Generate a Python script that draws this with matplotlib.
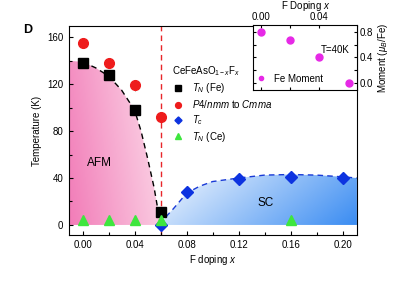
import numpy as np
import matplotlib
matplotlib.use("Agg")
import matplotlib.pyplot as plt
from matplotlib.patches import Polygon
from matplotlib.colors import LinearSegmentedColormap

plt.rcParams["font.family"] = ["Liberation Sans", "DejaVu Sans"]
plt.rcParams["mathtext.fontset"] = "custom"
plt.rcParams["mathtext.rm"] = "Liberation Sans"
plt.rcParams["mathtext.it"] = "Liberation Sans:italic"
plt.rcParams["font.size"] = 7

# main panel data
x_tn_fe = [0.00, 0.02, 0.04, 0.06]
tn_fe = [138, 128, 98, 11]
tn_fe_err = [4, 4, 4, 4]

x_struct = [0.00, 0.02, 0.04, 0.06]
t_struct = [155, 138, 119, 92]
t_struct_err = [4, 4, 5, 4]

x_tc = [0.06, 0.08, 0.12, 0.16, 0.20]
tc = [0, 28, 39, 41, 40]

x_tn_ce = [0.00, 0.02, 0.04, 0.06, 0.16]
tn_ce = [4, 4, 4, 4, 4]

# guide-to-the-eye phase boundaries
afm_x = [0.00, 0.01, 0.02, 0.03, 0.04, 0.045, 0.05, 0.055, 0.06]
afm_t = [139, 134, 127, 115, 98, 80, 57, 32, 0]
sc_x = [0.06, 0.065, 0.07, 0.08, 0.09, 0.10, 0.12, 0.14, 0.16, 0.18, 0.20, 0.211]
sc_t = [0, 8, 14, 27, 33, 37, 40, 42.5, 43, 42.5, 41, 40]

# inset data
x_moment = [0.00, 0.02, 0.04, 0.06]
moment = [0.80, 0.67, 0.40, 0.00]

fig = plt.figure(figsize=(4.15, 2.81), dpi=100)
ax = fig.add_axes([0.166, 0.164, 0.694, 0.743])
xlim = (-0.0105, 0.211)
ylim = (-8.5, 169.5)
ax.set_xlim(*xlim)
ax.set_ylim(*ylim)

# AFM pink region
pink = LinearSegmentedColormap.from_list("pink", ["#f27cb8", "#fcdcea"])
afm_poly = Polygon([(xlim[0], 0), (xlim[0], 140)] + list(zip(afm_x, afm_t)),
                   closed=True, facecolor="none", edgecolor="none")
ax.add_patch(afm_poly)
px, py = np.meshgrid(np.linspace(0, 1, 200), np.linspace(0, 1, 100))
pimg = 0.8 * px + 0.2 * py
im = ax.imshow(pimg, cmap=pink, extent=(xlim[0], 0.06, 0, 141), aspect="auto",
               origin="lower", zorder=0)
im.set_clip_path(afm_poly)

# SC blue region
blue = LinearSegmentedColormap.from_list("blue", ["#f4f8fe", "#3a8cf2"])
sc_poly = Polygon([(0.06, 0)] + list(zip(sc_x, sc_t)) + [(xlim[1], 0)],
                  closed=True, facecolor="none", edgecolor="none")
ax.add_patch(sc_poly)
gx, gy = np.meshgrid(np.linspace(0, 1, 200), np.linspace(0, 1, 100))
gimg = 0.75 * gx + 0.25 * (1 - gy)
im2 = ax.imshow(gimg, cmap=blue, extent=(0.06, xlim[1], 0, 44), aspect="auto",
                origin="lower", zorder=0)
im2.set_clip_path(sc_poly)

ax.plot(afm_x, afm_t, color="black", ls=(0, (4, 3)), lw=1, zorder=2)
ax.plot(sc_x, sc_t, color="#1a3ad6", ls=(0, (4, 3)), lw=1, zorder=2)
ax.axvline(0.06, color="#e8262a", ls=(0, (4, 3)), lw=1, zorder=1)

h1 = ax.errorbar(x_tn_fe, tn_fe, yerr=tn_fe_err, fmt="s", color="black", ms=6.5,
                 ecolor="#888888", elinewidth=0.8, capsize=0, zorder=4)
h2 = ax.errorbar(x_struct, t_struct, yerr=t_struct_err, fmt="o", color="#ee1c1c",
                 ms=7, ecolor="#999999", elinewidth=0.8, capsize=0, zorder=4)
h3, = ax.plot(x_tc, tc, "D", color="#0d33e0", ms=6, ls="none", zorder=4)
h4, = ax.plot(x_tn_ce, tn_ce, "^", color="#3ee63e", ms=7, ls="none", zorder=5)

ax.text(0.013, 53, "AFM", fontsize=8.5, ha="center", va="center")
ax.text(0.141, 19, "SC", fontsize=8.5, ha="center", va="center")

ax.set_xticks([0.00, 0.04, 0.08, 0.12, 0.16, 0.20])
ax.set_xticklabels(["0.00", "0.04", "0.08", "0.12", "0.16", "0.20"])
ax.set_xticks([0.02, 0.06, 0.10, 0.14, 0.18], minor=True)
ax.set_yticks([0, 40, 80, 120, 160])
ax.set_yticks([20, 60, 100, 140], minor=True)
ax.tick_params(which="both", direction="in", labelsize=7, pad=4)
ax.tick_params(which="major", length=3, width=0.8)
ax.tick_params(which="minor", length=2, width=0.8)
ax.set_xlabel("F doping $x$", fontsize=7, labelpad=2)
ax.set_ylabel("Temperature (K)", fontsize=7, labelpad=4)

ax.legend([h1[0], h2[0], h3, h4],
          ["$T_N$ (Fe)", "$P4/nmm$ to $Cmma$", "$T_c$", "$T_N$ (Ce)"],
          loc="upper left", bbox_to_anchor=(0.345, 0.835), frameon=False,
          title="CeFeAsO$_{1-x}$F$_x$", title_fontsize=7, fontsize=7,
          markerscale=0.6, handlelength=1.2, handletextpad=0.8,
          labelspacing=0.3, alignment="left", borderaxespad=0)

fig.text(0.067, 0.893, "D", fontsize=9, fontweight="bold", ha="center", va="center")

# inset: Fe moment
ins = fig.add_axes([0.610, 0.680, 0.251, 0.231])
ins.set_facecolor("white")
ins.plot(x_moment, moment, "o", color="#e629e6", ms=5, ls="none", label="Fe Moment")
ins.set_xlim(-0.0055, 0.066)
ins.set_ylim(-0.11, 0.91)
ins.xaxis.tick_top()
ins.xaxis.set_label_position("top")
ins.yaxis.tick_right()
ins.yaxis.set_label_position("right")
ins.set_xticks([0.00, 0.04])
ins.set_xticklabels(["0.00", "0.04"])
ins.set_xticks([0.02], minor=True)
ins.set_yticks([0.0, 0.4, 0.8])
ins.set_yticks([0.2, 0.6], minor=True)
ins.tick_params(which="both", direction="in", top=True, bottom=True, left=True,
                right=True, labelsize=7, pad=2, length=2.5, width=0.8)
ins.set_xlabel("F Doping $x$", fontsize=7, labelpad=2)
ins.set_ylabel("Moment ($\\mu_B$/Fe)", fontsize=7, labelpad=2)
ins.text(0.93, 0.62, "T=40K", transform=ins.transAxes, fontsize=7, ha="right", va="center")
ins.legend(loc="lower left", frameon=False, fontsize=7, markerscale=0.6,
           handlelength=0.6, handletextpad=1.0, borderaxespad=0.1,
           bbox_to_anchor=(0.0, 0.02))

fig.savefig("out.png", dpi=100)
